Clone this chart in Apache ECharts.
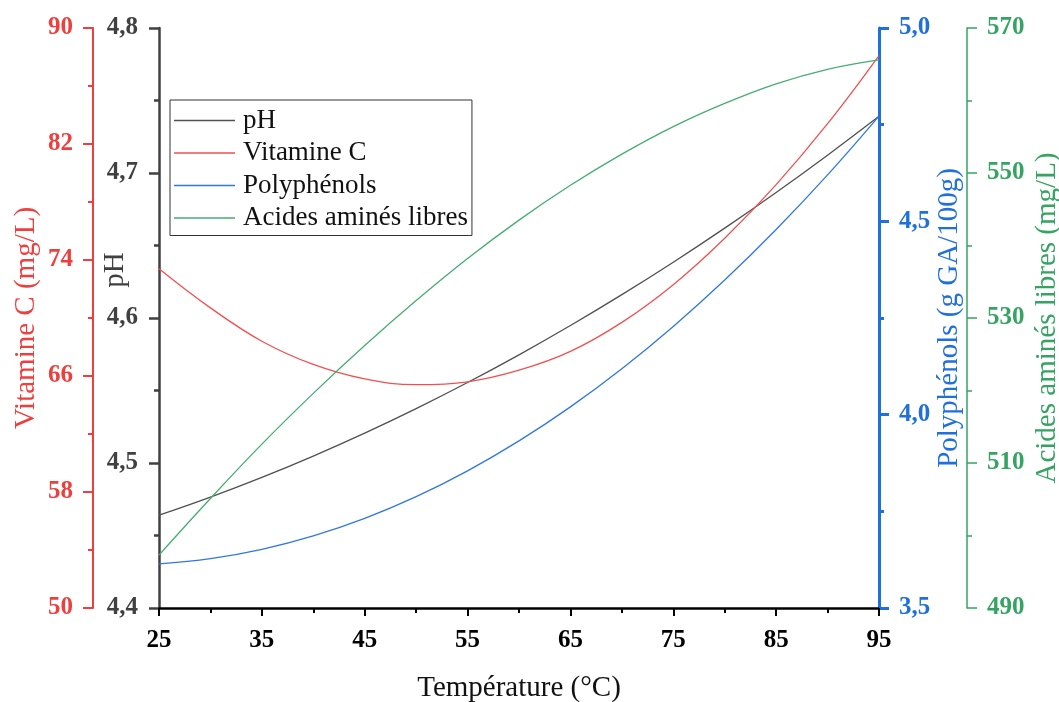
<!DOCTYPE html>
<html>
<head>
<meta charset="utf-8">
<script src="https://cdn.jsdelivr.net/npm/echarts@6/dist/echarts.min.js"></script>
<style>
html,body{margin:0;padding:0;background:#fff;}
#main{width:1059px;height:702px;}
</style>
</head>
<body>
<div id="main"></div>
<script>
// ---- data ----
const temperatures = [25, 30, 35, 40, 45, 50, 55, 60, 65, 70, 75, 80, 85, 90, 95];
const phValues = [4.464, 4.4765, 4.4901, 4.5048, 4.5206, 4.5375, 4.5555, 4.5746, 4.5948, 4.6161, 4.6385, 4.6620, 4.6866, 4.7123, 4.7391];
const vitCValues = [73.4, 70.7, 68.4, 66.8, 65.8, 65.4, 65.6, 66.4, 67.7, 69.7, 72.3, 75.5, 79.2, 83.4, 88.1];
const polyValues = [3.614, 3.6275, 3.6517, 3.6865, 3.7319, 3.7880, 3.8548, 3.9322, 4.0202, 4.1189, 4.2283, 4.3483, 4.4789, 4.6202, 4.7722];
const aaValues = [497.3, 505.1, 512.6, 519.6, 526.2, 532.4, 538.2, 543.5, 548.3, 552.6, 556.4, 559.6, 562.3, 564.3, 565.6];
const seriesNames = ['pH', 'Vitamine C', 'Polyphénols', 'Acides aminés libres'];

// ---- styling ----
const FONT = '"Liberation Serif", "Times New Roman", serif';
const C_PH = '#404040', C_VC = '#ef3e3e', C_PO = '#1f6fdc', C_AA = '#35a463';
const LC_PH = '#505050', LC_VC = '#f25050', LC_PO = '#2f78e2', LC_AA = '#45ad72';

const pairs = v => temperatures.map((t, i) => [t, v[i]]);
const comma1 = v => v.toFixed(1).replace('.', ',');

function yAxis(opt) {
  return Object.assign({
    type: 'value',
    nameLocation: 'middle',
    nameRotate: 90,
    nameMoveOverlap: false,
    splitLine: { show: false },
    minorTick: { show: true, splitNumber: 2, length: 5, lineStyle: { color: opt.color, width: opt.lw } },
    minorSplitLine: { show: false },
    axisLine: { show: true, onZero: false, lineStyle: { color: opt.color, width: opt.lw } },
    axisTick: { show: true, inside: false, length: 10, lineStyle: { color: opt.color, width: opt.lw } },
    axisLabel: { color: opt.color, fontFamily: FONT, fontWeight: 'bold', fontSize: 25, margin: 20 },
    nameTextStyle: { color: opt.color, fontFamily: FONT, fontSize: 29 }
  }, opt.extra);
}

const chart = echarts.init(document.getElementById('main'), null, { renderer: 'canvas' });
chart.setOption({
  animation: false,
  backgroundColor: '#ffffff',
  grid: { left: 159, right: 180, top: 28, bottom: 94, containLabel: false, outerBoundsMode: 'none' },
  legend: {
    orient: 'vertical',
    left: 170, top: 100,
    data: seriesNames,
    icon: 'rect',
    itemWidth: 61, itemHeight: 1.5,
    itemGap: 5.5,
    padding: [7, 4, 4, 4],
    borderColor: '#333', borderWidth: 1,
    textStyle: { fontFamily: FONT, fontSize: 27, color: '#111', padding: [0, 0, 0, 3] }
  },
  xAxis: {
    type: 'value', min: 25, max: 95, interval: 10,
    name: 'Température (°C)', nameLocation: 'middle', nameGap: 66, nameMoveOverlap: false,
    nameTextStyle: { color: '#111', fontFamily: FONT, fontSize: 29 },
    splitLine: { show: false },
    axisLine: { onZero: false, lineStyle: { color: '#000', width: 2.5 } },
    axisTick: { length: 8, lineStyle: { color: '#000', width: 2 } },
    minorTick: { show: true, splitNumber: 2, length: 5, lineStyle: { color: '#000', width: 2 } },
    axisLabel: { color: '#000', fontFamily: FONT, fontWeight: 'bold', fontSize: 25, margin: 20 }
  },
  yAxis: [
    yAxis({ color: C_PH, lw: 2.5, extra: {
      position: 'left', offset: 0, min: 4.4, max: 4.8, interval: 0.1,
      name: 'pH', nameGap: 29,
      axisLabel: { color: C_PH, fontFamily: FONT, fontWeight: 'bold', fontSize: 25, margin: 21, formatter: comma1 },
      nameTextStyle: { color: C_PH, fontFamily: FONT, fontSize: 29, padding: [0, 0, 0, 96] }
    }}),
    yAxis({ color: C_VC, lw: 2, extra: {
      position: 'left', offset: 66, min: 50, max: 90, interval: 8,
      name: 'Vitamine C (mg/L)', nameGap: 52
    }}),
    yAxis({ color: C_PO, lw: 3, extra: {
      position: 'right', offset: 0, min: 3.5, max: 5.0, interval: 0.5,
      name: 'Polyphénols (g GA/100g)', nameGap: 56,
      axisLabel: { color: C_PO, fontFamily: FONT, fontWeight: 'bold', fontSize: 25, margin: 20, formatter: comma1 }
    }}),
    yAxis({ color: C_AA, lw: 1.5, extra: {
      position: 'right', offset: 88, min: 490, max: 570, interval: 20,
      name: 'Acides aminés libres (mg/L)', nameGap: 66
    }})
  ],
  series: [
    { name: seriesNames[0], type: 'line', yAxisIndex: 0, data: pairs(phValues), smooth: 0.4, symbol: 'none',
      lineStyle: { color: LC_PH, width: 1.3 }, itemStyle: { color: LC_PH } },
    { name: seriesNames[1], type: 'line', yAxisIndex: 1, data: pairs(vitCValues), smooth: 0.4, symbol: 'none',
      lineStyle: { color: LC_VC, width: 1.3 }, itemStyle: { color: LC_VC } },
    { name: seriesNames[2], type: 'line', yAxisIndex: 2, data: pairs(polyValues), smooth: 0.4, symbol: 'none',
      lineStyle: { color: LC_PO, width: 1.3 }, itemStyle: { color: LC_PO } },
    { name: seriesNames[3], type: 'line', yAxisIndex: 3, data: pairs(aaValues), smooth: 0.4, symbol: 'none',
      lineStyle: { color: LC_AA, width: 1.3 }, itemStyle: { color: LC_AA } }
  ]
});
</script>
</body>
</html>
